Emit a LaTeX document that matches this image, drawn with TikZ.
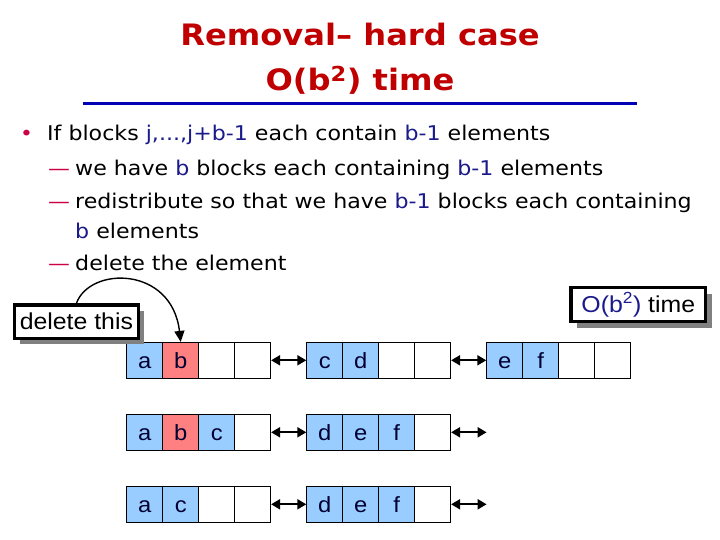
\documentclass[tikz,border=0pt]{standalone}
\usepackage{fontspec}
\setmainfont[FakeStretch=1.09]{DejaVu Sans}
\newfontfamily\arialf[FakeStretch=1.08]{Liberation Sans}
\usepackage{tikz}
\usetikzlibrary{arrows.meta,positioning,calc,shadows}
\definecolor{rmrouge}{HTML}{C00000}
\definecolor{rmbleu}{HTML}{0000B4}
\definecolor{rmmarine}{HTML}{1A1A8C}
\definecolor{rmpuce}{HTML}{CC0044}
\definecolor{rmencre}{HTML}{000033}
\definecolor{rmombre}{HTML}{808080}
\definecolor{cellB}{HTML}{99CCFF}
\definecolor{cellR}{HTML}{FF8080}
\definecolor{cellW}{HTML}{FFFFFF}

\begin{document}
\begin{tikzpicture}[x=1pt,y=-1pt,
  titre/.style={rmrouge,font=\bfseries\fontsize{29.5}{29.5}\selectfont,anchor=base,inner sep=0pt},
  ligne/.style={anchor=base west,inner sep=0pt,font=\fontsize{20.3}{20.3}\selectfont},
  puce/.style={anchor=base west,inner sep=0pt,rmpuce,font=\fontsize{20}{20}\selectfont},
  cell/.style={draw=black,line width=0.8pt,minimum size=36pt,inner sep=0pt,text height=16pt,text depth=0pt,
    text=rmencre,font=\arialf\fontsize{22}{22}\selectfont},
  link/.style={{Triangle[length=9pt,width=10pt]}-{Triangle[length=9pt,width=10pt]},line width=2pt},
  callout/.style={draw=black,line width=3.2pt,fill=white,inner sep=0pt,font=\arialf\fontsize{23}{23}\selectfont,
    drop shadow={shadow xshift=6pt,shadow yshift=-6pt,fill=rmombre,opacity=1}}]
  \useasboundingbox (0,0) rectangle (720,540);

  % titre
  \node[titre] (t1) at (360,46) {Removal– hard case};
  \node[titre] (t2) at (360,91) {O(b\textsuperscript{2}) time};
  \draw[rmbleu,line width=3pt] (83,104) -- (637,104);

  % texte
  \node[puce] (p1) at (20,141) {•};
  \node[ligne] (l1) at (47,141) {If blocks \textcolor{rmmarine}{j,...,j+b-1} each contain \textcolor{rmmarine}{b-1} elements};
  \foreach \n/\y in {2/176,3/208,5/270} \node[puce] (p\n) at (48,\y) {—};
  \node[ligne] (l2) at (75,176) {we have \textcolor{rmmarine}{b} blocks each containing \textcolor{rmmarine}{b-1} elements};
  \node[ligne] (l3) at (75,208) {redistribute so that we have \textcolor{rmmarine}{b-1} blocks each containing};
  \node[ligne] (l4) at (75,238) {\textcolor{rmmarine}{b} elements};
  \node[ligne] (l5) at (75,270) {delete the element};

  % blocs
  \foreach \r/\y/\cells in {1/360.3/{a/B,b/R,/W,/W,c/B,d/B,/W,/W,e/B,f/B,/W,/W},
                            2/432.3/{a/B,b/R,c/B,/W,d/B,e/B,f/B,/W},
                            3/504.3/{a/B,c/B,/W,/W,d/B,e/B,f/B,/W}}
    \foreach \lab/\col [count=\i] in \cells {
      \pgfmathsetmacro\cx{108.7+36*\i+36*floor((\i-1)/4)}
      \node[cell,fill=cell\col] (c\r-\i) at (\cx,\y) {\lab};
    }
  \coordinate (fin2) at ($(c2-8.east)+(35.5,0)$);
  \coordinate (fin3) at ($(c3-8.east)+(35.5,0)$);
  \foreach \a/\b in {c1-4/c1-5,c1-8/c1-9,c2-4/c2-5,c3-4/c3-5}
    \draw[link] (\a.east) -- (\b.west);
  \draw[link] (c2-8.east) -- (fin2);
  \draw[link] (c3-8.east) -- (fin3);

  % bulles
  \node[callout,minimum width=124pt,minimum height=33.5pt] (del) at (76.4,321.7) {delete this};
  \node[callout,minimum width=134.5pt,minimum height=34pt] (cout) at (638.3,304.8)
    {\textcolor{rmmarine}{O(b\textsuperscript{2})} time};
  \draw[-{Triangle[length=11pt,width=10pt]},line width=1.4pt] (del.north) .. controls (90,266) and (172,266) .. (c1-2.north);
\end{tikzpicture}
\end{document}
